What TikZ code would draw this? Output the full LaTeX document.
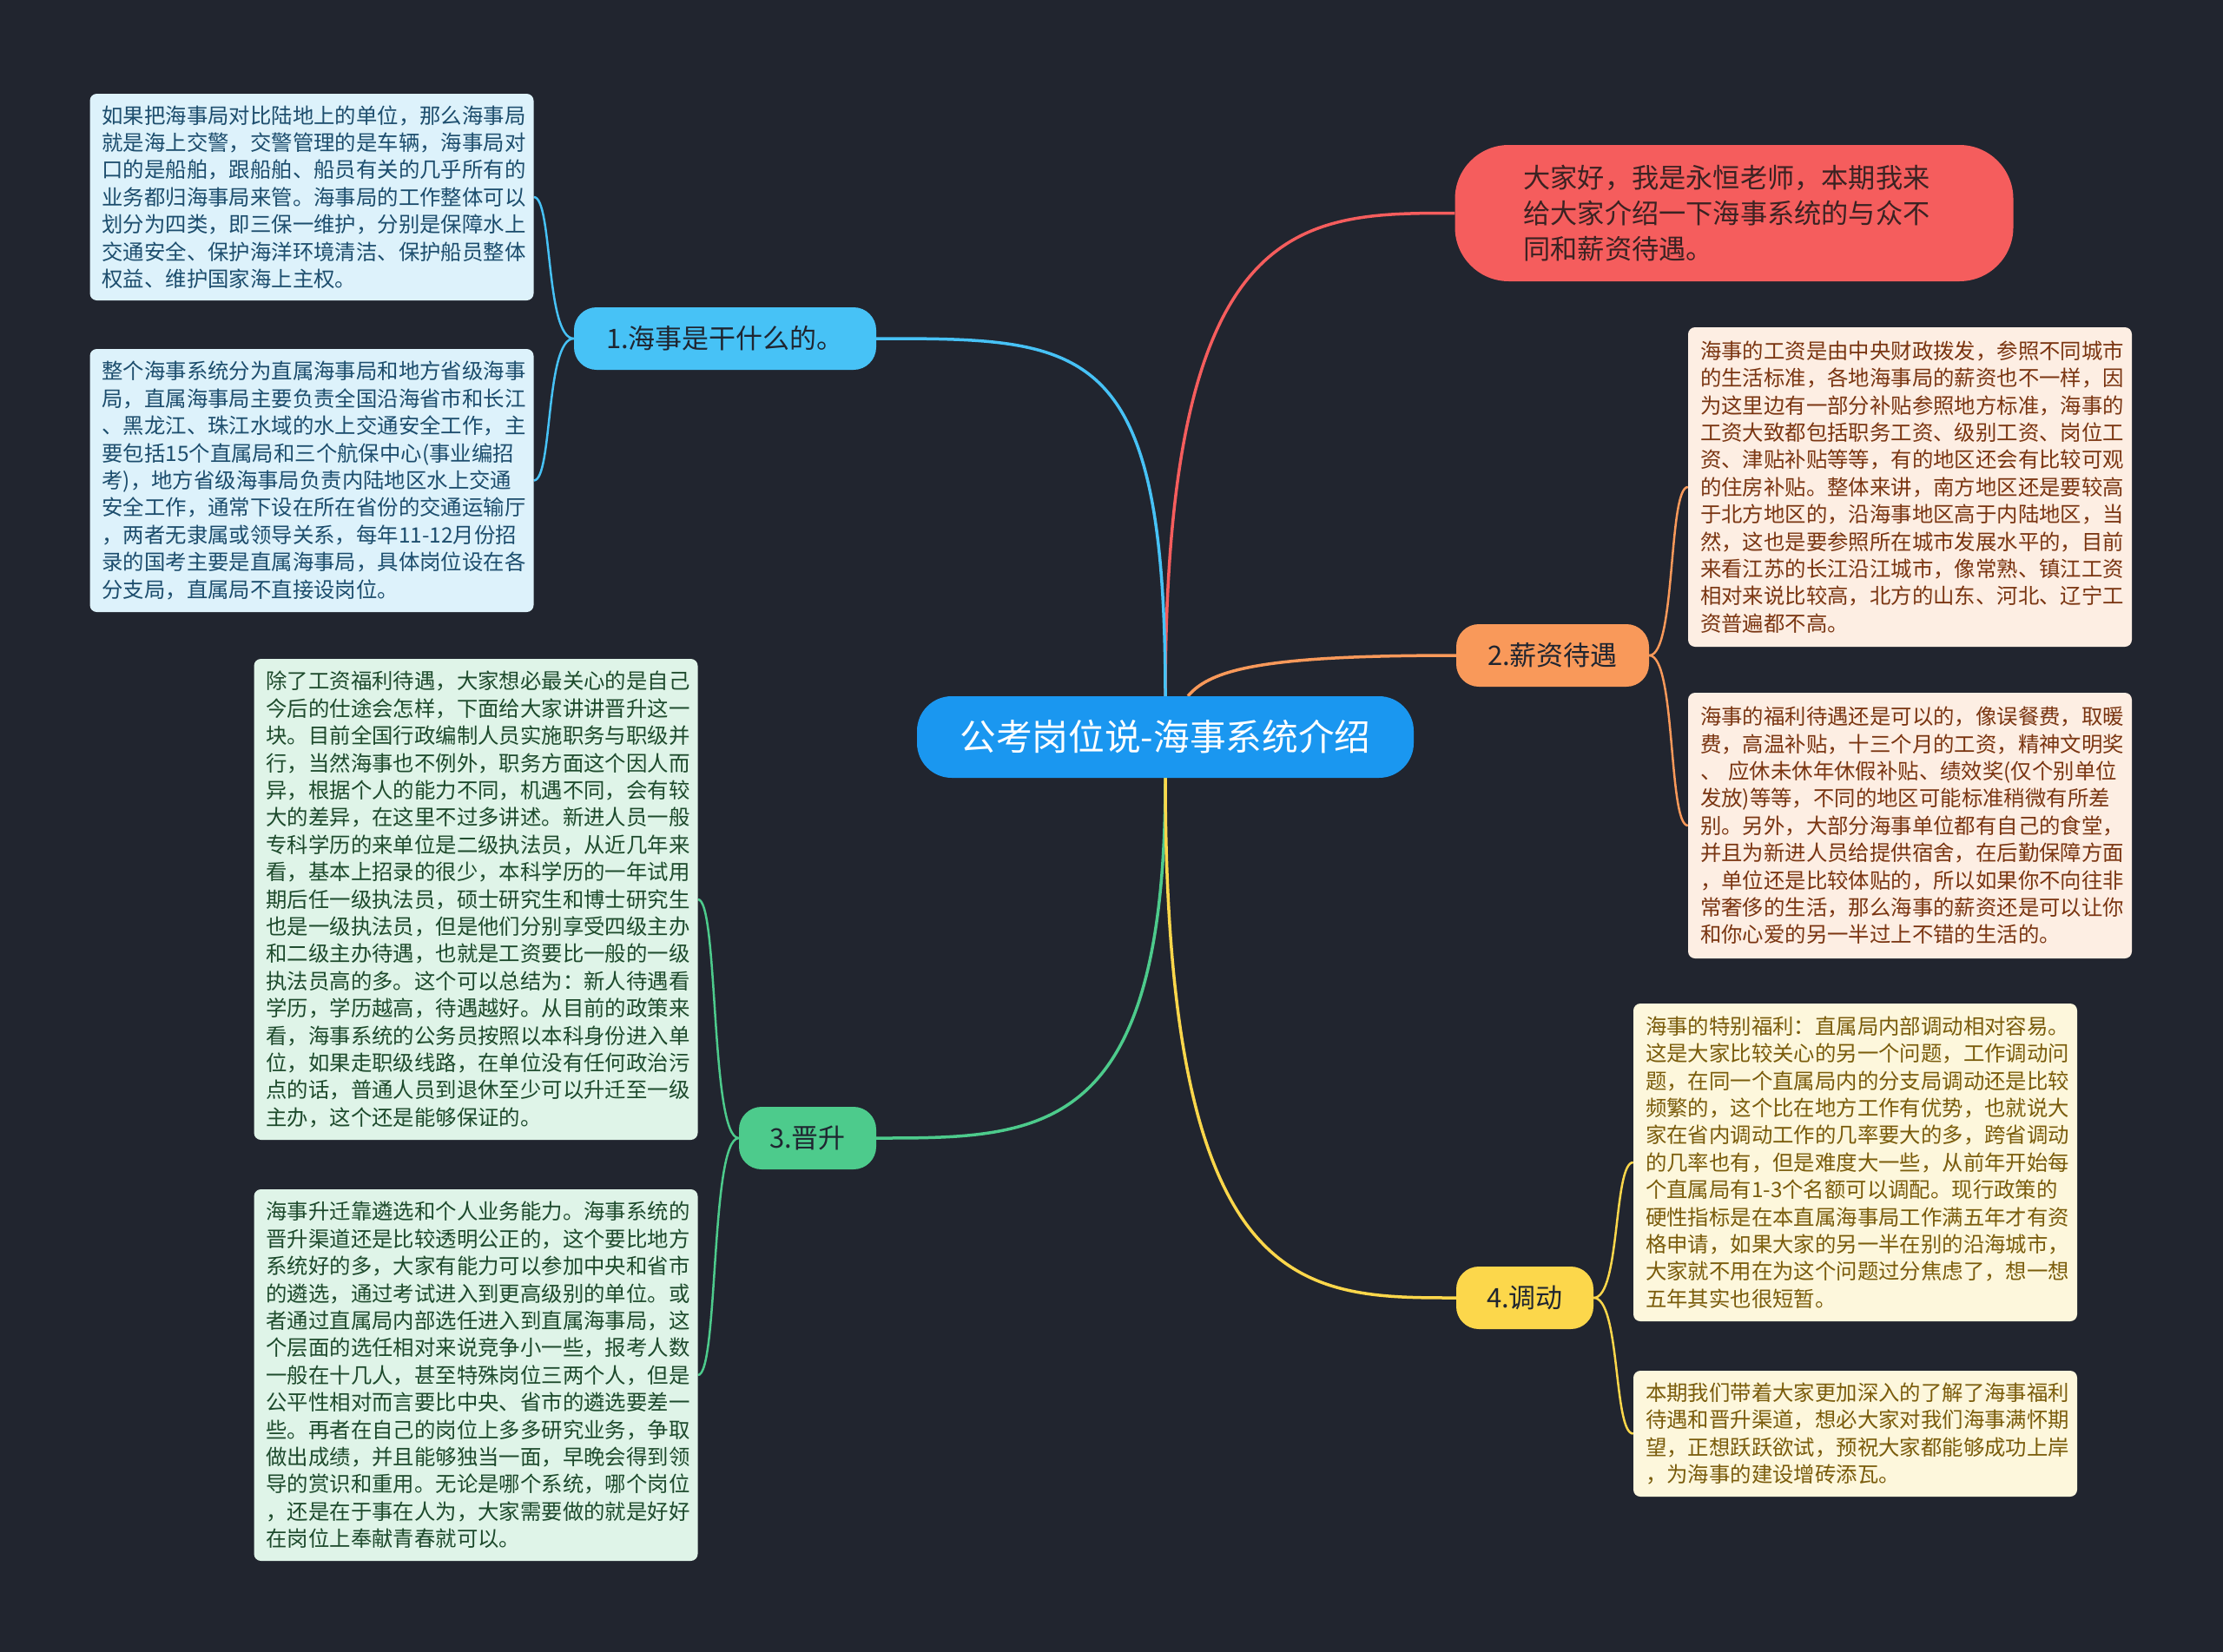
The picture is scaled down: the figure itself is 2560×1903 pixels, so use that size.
\documentclass[tikz,border=0pt]{standalone}
\usepackage{fontspec}
\setmainfont{Noto Sans CJK SC}
\usepackage{tikz}
\usetikzlibrary{positioning,backgrounds}
\definecolor{mapBg}{HTML}{21252F}
\definecolor{mapHub}{HTML}{1A97F0}
\definecolor{mapRed}{HTML}{F55D5D}
\definecolor{mapSky}{HTML}{47C2F6}
\definecolor{mapOrange}{HTML}{F9995A}
\definecolor{mapGreen}{HTML}{4DCB8C}
\definecolor{mapYellow}{HTML}{FCD74B}
\definecolor{leafSky}{HTML}{DDF2FB}
\definecolor{leafOrange}{HTML}{FDEEE3}
\definecolor{leafGreen}{HTML}{DFF4E8}
\definecolor{leafYellow}{HTML}{FDF7DC}
\definecolor{inkSky}{HTML}{1C4D6D}
\definecolor{inkOrange}{HTML}{7A3511}
\definecolor{inkGreen}{HTML}{1D4A2C}
\definecolor{inkYellow}{HTML}{7A5C0B}
\definecolor{inkDark}{HTML}{1F2530}
\definecolor{inkRed}{HTML}{3B2222}
\tikzset{
    hub/.style={fill=mapHub, text=white, rounded corners=40pt, minimum width=572pt,
        minimum height=94pt, font=\fontsize{41.7}{48}\selectfont},
    intro/.style={fill=mapRed, text=inkRed, rounded corners=62pt, text width=485pt,
        inner xsep=79pt, minimum height=157pt, align=left, font=\fontsize{31.2}{41}\selectfont},
    branch/.style={rounded corners=26pt, minimum height=72pt, text=inkDark,
        font=\fontsize{31}{38}\selectfont},
    leaf/.style={rounded corners=8pt, text width=483pt, inner xsep=14pt, inner ysep=6pt,
        align=left, font=\fontsize{24.4}{31.4}\selectfont},
    limb/.style={line width=3.5pt},
    twig/.style={line width=2.5pt}
}
\begin{document}
\begin{tikzpicture}[x=1pt,y=-1pt]
    % Hub and intro
    \node[hub] (hub) at (1342,849) {公考岗位说-海事系统介绍};
    \node[intro] (intro) at (1997,245.5) {大家好，我是永恒老师，本期我来\\
给大家介绍一下海事系统的与众不\\
同和薪资待遇。};
    % Branches
    \node[branch, fill=mapSky, minimum width=348pt] (b1) at (835,390) {1.海事是干什么的。};
    \node[branch, fill=mapOrange, minimum width=222pt] (b2) at (1788,755) {2.薪资待遇};
    \node[branch, fill=mapGreen, minimum width=158pt] (b3) at (930,1311) {3.晋升};
    \node[branch, fill=mapYellow, minimum width=158pt] (b4) at (1756,1495) {4.调动};
    % Leaves of 1
    \node[leaf, fill=leafSky, text=inkSky, minimum height=238pt] (l1a) at (359,227) {如果把海事局对比陆地上的单位，那么海事局\\
就是海上交警，交警管理的是车辆，海事局对\\
口的是船舶，跟船舶、船员有关的几乎所有的\\
业务都归海事局来管。海事局的工作整体可以\\
划分为四类，即三保一维护，分别是保障水上\\
交通安全、保护海洋环境清洁、保护船员整体\\
权益、维护国家海上主权。};
    \node[leaf, fill=leafSky, text=inkSky, minimum height=303pt] (l1b) at (359,553.5) {整个海事系统分为直属海事局和地方省级海事\\
局，直属海事局主要负责全国沿海省市和长江\\
、黑龙江、珠江水域的水上交通安全工作，主\\
要包括15个直属局和三个航保中心(事业编招\\
考)，地方省级海事局负责内陆地区水上交通\\
安全工作，通常下设在所在省份的交通运输厅\\
，两者无隶属或领导关系，每年11-12月份招\\
录的国考主要是直属海事局，具体岗位设在各\\
分支局，直属局不直接设岗位。};
    % Leaves of 2
    \node[leaf, fill=leafOrange, text=inkOrange, minimum height=368pt] (l2a) at (2199.5,561) {海事的工资是由中央财政拨发，参照不同城市\\
的生活标准，各地海事局的薪资也不一样，因\\
为这里边有一部分补贴参照地方标准，海事的\\
工资大致都包括职务工资、级别工资、岗位工\\
资、津贴补贴等等，有的地区还会有比较可观\\
的住房补贴。整体来讲，南方地区还是要较高\\
于北方地区的，沿海事地区高于内陆地区，当\\
然，这也是要参照所在城市发展水平的，目前\\
来看江苏的长江沿江城市，像常熟、镇江工资\\
相对来说比较高，北方的山东、河北、辽宁工\\
资普遍都不高。};
    \node[leaf, fill=leafOrange, text=inkOrange, minimum height=306pt] (l2b) at (2199.5,951) {海事的福利待遇还是可以的，像误餐费，取暖\\
费，高温补贴，十三个月的工资，精神文明奖\\
、~应休未休年休假补贴、绩效奖(仅个别单位\\
发放)等等，不同的地区可能标准稍微有所差\\
别。另外，大部分海事单位都有自己的食堂，\\
并且为新进人员给提供宿舍，在后勤保障方面\\
，单位还是比较体贴的，所以如果你不向往非\\
常奢侈的生活，那么海事的薪资还是可以让你\\
和你心爱的另一半过上不错的生活的。};
    % Leaves of 3
    \node[leaf, fill=leafGreen, text=inkGreen, minimum height=554pt] (l3a) at (548,1036) {除了工资福利待遇，大家想必最关心的是自己\\
今后的仕途会怎样，下面给大家讲讲晋升这一\\
块。目前全国行政编制人员实施职务与职级并\\
行，当然海事也不例外，职务方面这个因人而\\
异，根据个人的能力不同，机遇不同，会有较\\
大的差异，在这里不过多讲述。新进人员一般\\
专科学历的来单位是二级执法员，从近几年来\\
看，基本上招录的很少，本科学历的一年试用\\
期后任一级执法员，硕士研究生和博士研究生\\
也是一级执法员，但是他们分别享受四级主办\\
和二级主办待遇，也就是工资要比一般的一级\\
执法员高的多。这个可以总结为：新人待遇看\\
学历，学历越高，待遇越好。从目前的政策来\\
看，海事系统的公务员按照以本科身份进入单\\
位，如果走职级线路，在单位没有任何政治污\\
点的话，普通人员到退休至少可以升迁至一级\\
主办，这个还是能够保证的。};
    \node[leaf, fill=leafGreen, text=inkGreen, minimum height=428pt] (l3b) at (548,1584) {海事升迁靠遴选和个人业务能力。海事系统的\\
晋升渠道还是比较透明公正的，这个要比地方\\
系统好的多，大家有能力可以参加中央和省市\\
的遴选，通过考试进入到更高级别的单位。或\\
者通过直属局内部选任进入到直属海事局，这\\
个层面的选任相对来说竞争小一些，报考人数\\
一般在十几人，甚至特殊岗位三两个人，但是\\
公平性相对而言要比中央、省市的遴选要差一\\
些。再者在自己的岗位上多多研究业务，争取\\
做出成绩，并且能够独当一面，早晚会得到领\\
导的赏识和重用。无论是哪个系统，哪个岗位\\
，还是在于事在人为，大家需要做的就是好好\\
在岗位上奉献青春就可以。};
    % Leaves of 4
    \node[leaf, fill=leafYellow, text=inkYellow, minimum height=366pt] (l4a) at (2136.5,1339) {海事的特别福利：直属局内部调动相对容易。\\
这是大家比较关心的另一个问题，工作调动问\\
题，在同一个直属局内的分支局调动还是比较\\
频繁的，这个比在地方工作有优势，也就说大\\
家在省内调动工作的几率要大的多，跨省调动\\
的几率也有，但是难度大一些，从前年开始每\\
个直属局有1-3个名额可以调配。现行政策的\\
硬性指标是在本直属海事局工作满五年才有资\\
格申请，如果大家的另一半在别的沿海城市，\\
大家就不用在为这个问题过分焦虑了，想一想\\
五年其实也很短暂。};
    \node[leaf, fill=leafYellow, text=inkYellow, minimum height=145pt] (l4b) at (2136.5,1651.5) {本期我们带着大家更加深入的了解了海事福利\\
待遇和晋升渠道，想必大家对我们海事满怀期\\
望，正想跃跃欲试，预祝大家都能够成功上岸\\
，为海事的建设增砖添瓦。};
    \begin{scope}[on background layer]
        % Background
        \fill[mapBg] (0,0) rectangle (2560,1903);
        % Hub to branches
        \draw[limb, mapRed] (hub.north) .. controls +(0,-557) and +(-177,0) .. (intro.west);
        \draw[limb, mapSky] (hub.north) .. controls +(0,-412) and +(241,0) .. (b1.east);
        \draw[limb, mapOrange] ([xshift=26pt]hub.north) .. controls +(27,-32) and +(-217,0) .. (b2.west);
        \draw[limb, mapGreen] (hub.south) .. controls +(0,415) and +(191,0) .. (b3.east);
        \draw[limb, mapYellow] (hub.south) .. controls +(0,599) and +(-177,0) .. (b4.west);
        % Branches to leaves
        \foreach \leaf in {l1a,l1b}
            \draw[twig, mapSky] (b1.west) .. controls +(-33,0) and +(22,0) .. (\leaf.east);
        \foreach \leaf in {l2a,l2b}
            \draw[twig, mapOrange] (b2.east) .. controls +(31,0) and +(-23,0) .. (\leaf.west);
        \foreach \leaf in {l3a,l3b}
            \draw[twig, mapGreen] (b3.west) .. controls +(-33,0) and +(24,0) .. (\leaf.east);
        \foreach \leaf in {l4a,l4b}
            \draw[twig, mapYellow] (b4.east) .. controls +(31,0) and +(-23,0) .. (\leaf.west);
    \end{scope}
\end{tikzpicture}
\end{document}
